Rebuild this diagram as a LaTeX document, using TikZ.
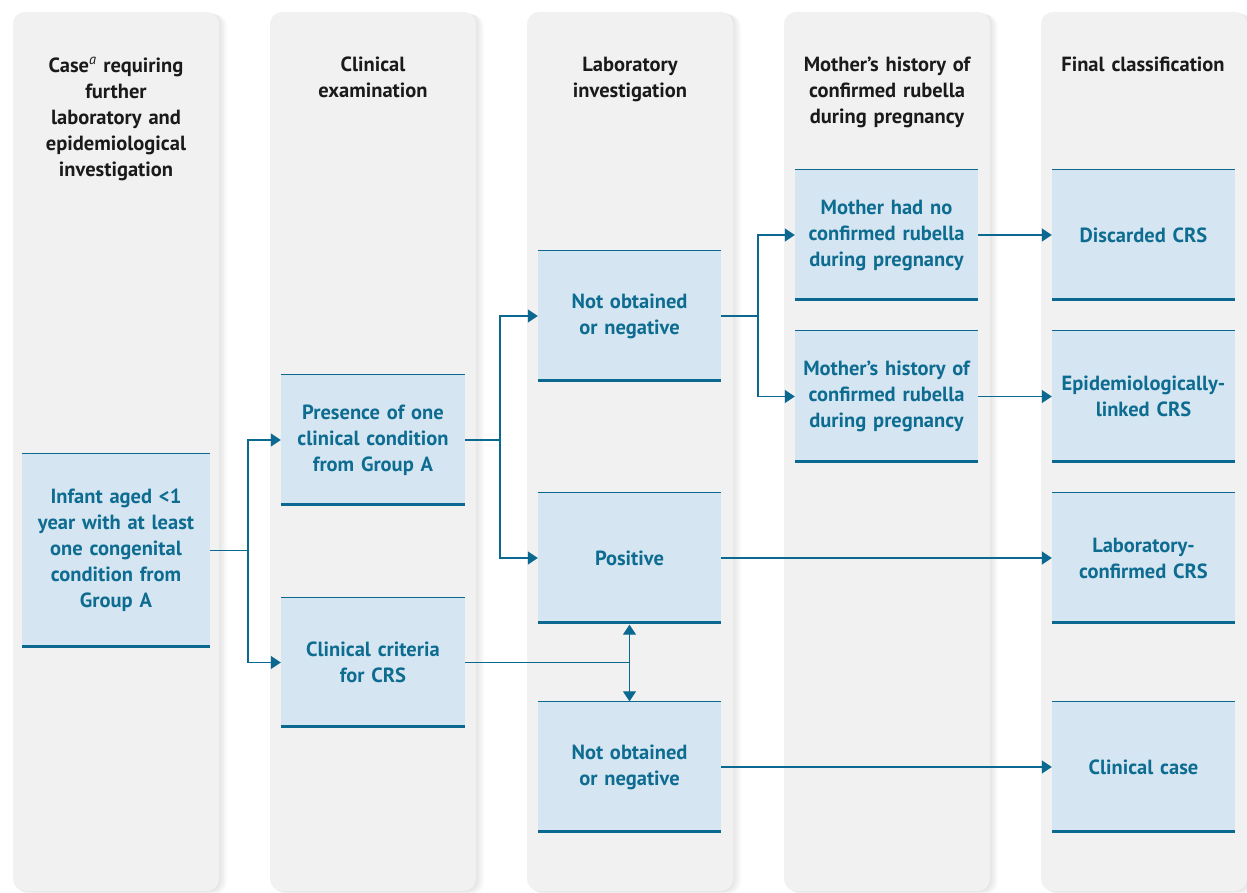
\documentclass[tikz,border=0pt]{standalone}
\usepackage{fontspec}
\setmainfont{PT Sans}
\usetikzlibrary{arrows.meta,calc}
\definecolor{panelgrey}{HTML}{F1F1F1}
\definecolor{boxblue}{HTML}{D5E6F2}
\definecolor{lineblue}{HTML}{0A6891}
\definecolor{textblue}{HTML}{0E6C91}
\definecolor{headtext}{HTML}{1A1A1A}
\tikzset{
  panel/.style={fill=panelgrey, rounded corners=12pt, draw=none},
  header/.style={anchor=north, align=center, inner sep=0pt, text=headtext,
    font=\fontsize{20.5}{26}\selectfont\bfseries, text width=200pt},
  flowbox/.style={fill=boxblue, draw=none, inner sep=0pt, align=center,
    text=textblue, font=\fontsize{20.5}{26}\selectfont\bfseries},
  conn/.style={draw=lineblue, line width=1.3pt},
  arr/.style={conn, -{Triangle[length=10pt,width=13pt]}},
  darr/.style={conn, {Triangle[length=10pt,width=13pt]}-{Triangle[length=10pt,width=13pt]}},
}
\begin{document}
\begin{tikzpicture}[x=1pt,y=-1pt]
\useasboundingbox[fill=white] (0,0) rectangle (1247,893);
% panels with soft shadow
\foreach \i in {0,...,4}{
  \pgfmathsetmacro{\xl}{13+257*\i}
  \foreach \k in {1,...,5}{
    \fill[black, opacity=0.018, rounded corners=12pt] (\xl+\k*0.9,12+\k*0.5) rectangle (\xl+206+\k*1.6,891+\k*0.6);
  }
  \fill[panel] (\xl,12) rectangle (\xl+206,891);
}
% headers
\node[header] (h1) at (116,57) {Case\textsuperscript{\itshape\mdseries a} requiring\\further\\laboratory and\\epidemiological\\investigation};
\node[header] (h2) at (373,57) {Clinical\\examination};
\node[header] (h3) at (630,57) {Laboratory\\investigation};
\node[header] (h4) at (887,57) {Mother’s history of\\confirmed rubella\\during pregnancy};
\node[header] (h5) at (1143,57) {Final classification};
% boxes
\node[flowbox, minimum width=188pt, minimum height=194pt, text width=180pt] (inf) at (116,550.5) {Infant aged <1\\year with at least\\one congenital\\condition from\\Group A};
\node[flowbox, minimum width=184pt, minimum height=131pt, text width=176pt] (pres) at (373,440) {Presence of one\\clinical condition\\from Group A};
\node[flowbox, minimum width=184pt, minimum height=130pt, text width=176pt] (crit) at (373,662.5) {Clinical criteria\\for CRS};
\node[flowbox, minimum width=183pt, minimum height=131pt, text width=175pt] (no1) at (629.5,316) {Not obtained\\or negative};
\node[flowbox, minimum width=183pt, minimum height=131pt, text width=175pt] (pos) at (629.5,558) {Positive};
\node[flowbox, minimum width=183pt, minimum height=131pt, text width=175pt] (no2) at (629.5,767) {Not obtained\\or negative};
\node[flowbox, minimum width=183pt, minimum height=131pt, text width=175pt] (m1) at (886.5,235) {Mother had no\\confirmed rubella\\during pregnancy};
\node[flowbox, minimum width=183pt, minimum height=132pt, text width=175pt] (m2) at (886.5,396.5) {Mother’s history of\\confirmed rubella\\during pregnancy};
\node[flowbox, minimum width=183pt, minimum height=131pt, text width=175pt] (f1) at (1143.5,235) {Discarded CRS};
\node[flowbox, minimum width=183pt, minimum height=132pt, text width=175pt] (f2) at (1143.5,396.5) {Epidemiologically-\\linked CRS};
\node[flowbox, minimum width=183pt, minimum height=131pt, text width=175pt] (f3) at (1143.5,558) {Laboratory-\\confirmed CRS};
\node[flowbox, minimum width=183pt, minimum height=131pt, text width=175pt] (f4) at (1143.5,767) {Clinical case};
% box rules
\foreach \n in {inf,pres,crit,no1,pos,no2,m1,m2,f1,f2,f3,f4}{
  \draw[lineblue, line width=1pt] ([yshift=-0.5pt]\n.north west) -- ([yshift=-0.5pt]\n.north east);
  \draw[lineblue, line width=2.8pt] ([yshift=1.4pt]\n.south west) -- ([yshift=1.4pt]\n.south east);
}
% connectors
\coordinate (j1) at (248,550.5);
\draw[conn] (inf.east) -- (j1);
\draw[arr] (j1) |- (pres.west);
\draw[arr] (j1) |- (crit.west);
\coordinate (j2) at (500,440);
\draw[conn] (pres.east) -- (j2);
\draw[arr] (j2) |- (no1.west);
\draw[arr] (j2) |- (pos.west);
\draw[conn] (crit.east) -- (crit.east -| pos.south);
\draw[darr] ([yshift=-1pt]pos.south) -- (no2.north);
\coordinate (j3) at (758,316);
\draw[conn] (no1.east) -- (j3);
\draw[arr] (j3) |- (m1.west);
\draw[arr] (j3) |- (m2.west);
\draw[arr] (m1.east) -- (f1.west);
\draw[arr] (m2.east) -- (f2.west);
\draw[arr] (pos.east) -- (f3.west);
\draw[arr] (no2.east) -- (f4.west);
\end{tikzpicture}
\end{document}
